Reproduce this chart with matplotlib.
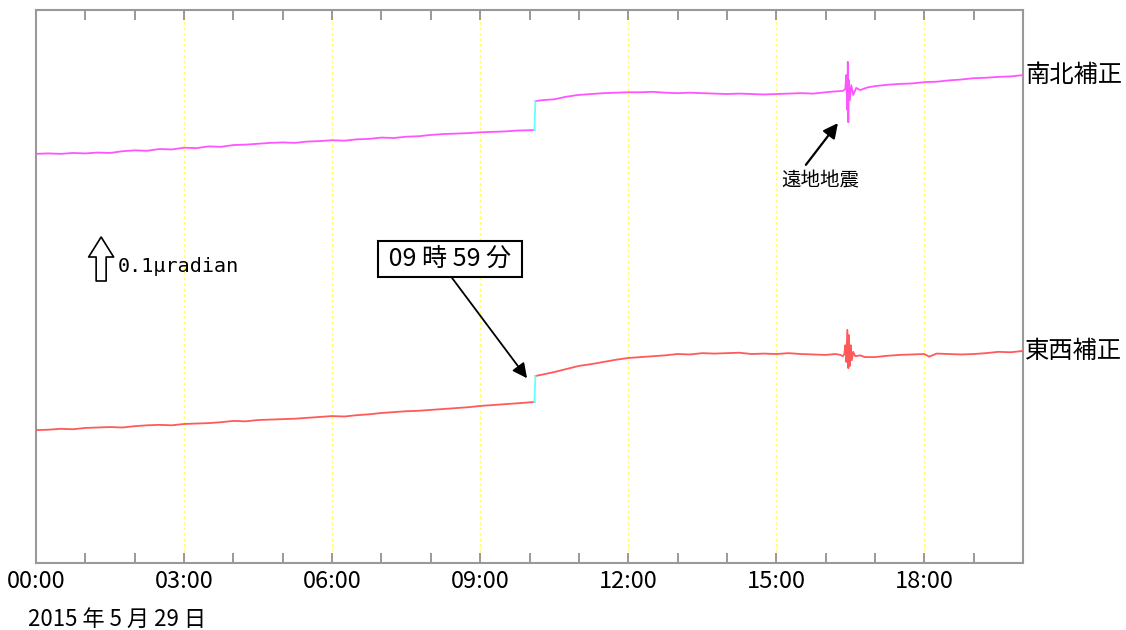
import numpy as np
import matplotlib
matplotlib.use('Agg')
import matplotlib.pyplot as plt

plt.rcParams['font.family'] = ['Noto Sans CJK JP', 'DejaVu Sans']

# tilt, corrected, in microradian (hours since 00:00)
ns_hours_pre = [0, 0.25, 0.5, 0.75, 1, 1.25, 1.5, 1.75, 2, 2.25, 2.5, 2.75, 3, 3.25,
                3.5, 3.75, 4, 4.25, 4.5, 4.75, 5, 5.25, 5.5, 5.75, 6, 6.25, 6.5,
                6.75, 7, 7.25, 7.5, 7.75, 8, 8.25, 8.5, 8.75, 9, 9.25, 9.5, 9.75,
                10.1]
ns_pre = [0.930, 0.931, 0.930, 0.932, 0.931, 0.933, 0.932, 0.936, 0.938, 0.937,
          0.941, 0.940, 0.944, 0.943, 0.947, 0.946, 0.950, 0.951, 0.953, 0.955,
          0.956, 0.955, 0.958, 0.959, 0.961, 0.960, 0.963, 0.964, 0.967, 0.966,
          0.969, 0.970, 0.973, 0.975, 0.976, 0.977, 0.979, 0.980, 0.981, 0.983,
          0.984]
ns_hours_post = [10.12, 10.25, 10.5, 10.75, 11, 11.25, 11.5, 11.75, 12, 12.25,
                 12.5, 12.75, 13, 13.25, 13.5, 13.75, 14, 14.25, 14.5, 14.75, 15,
                 15.25, 15.5, 15.75, 16, 16.2, 16.35, 16.40, 16.42, 16.44, 16.45,
                 16.46, 16.47, 16.49, 16.52, 16.56, 16.62, 16.7, 16.85, 17, 17.25,
                 17.5, 17.75, 18, 18.25, 18.5, 18.75, 19, 19.25, 19.5, 19.75, 20]
ns_post = [1.050, 1.052, 1.054, 1.060, 1.064, 1.066, 1.068, 1.069, 1.070, 1.070,
           1.071, 1.069, 1.068, 1.069, 1.068, 1.067, 1.066, 1.067, 1.066, 1.065,
           1.066, 1.067, 1.068, 1.067, 1.070, 1.072, 1.073, 1.078, 1.109, 1.030,
           1.139, 1.002, 1.098, 1.052, 1.086, 1.064, 1.080, 1.075, 1.081, 1.084,
           1.087, 1.089, 1.090, 1.093, 1.094, 1.097, 1.099, 1.102, 1.103, 1.105,
           1.106, 1.109]

ew_hours_pre = [0, 0.25, 0.5, 0.75, 1, 1.25, 1.5, 1.75, 2, 2.25, 2.5, 2.75, 3, 3.25,
                3.5, 3.75, 4, 4.25, 4.5, 4.75, 5, 5.25, 5.5, 5.75, 6, 6.25, 6.5,
                6.75, 7, 7.25, 7.5, 7.75, 8, 8.25, 8.5, 8.75, 9, 9.25, 9.5, 9.75,
                10.1]
ew_pre = [0.302, 0.303, 0.305, 0.304, 0.307, 0.308, 0.309, 0.308, 0.311, 0.313,
          0.314, 0.313, 0.316, 0.317, 0.318, 0.320, 0.323, 0.322, 0.325, 0.326,
          0.327, 0.328, 0.330, 0.332, 0.334, 0.333, 0.336, 0.338, 0.341, 0.343,
          0.345, 0.346, 0.348, 0.350, 0.352, 0.354, 0.357, 0.359, 0.361, 0.363,
          0.366]
ew_hours_post = [10.12, 10.25, 10.5, 10.75, 11, 11.25, 11.5, 11.75, 12, 12.25,
                 12.5, 12.75, 13, 13.25, 13.5, 13.75, 14, 14.25, 14.5, 14.75, 15,
                 15.25, 15.5, 15.75, 16, 16.2, 16.3, 16.35, 16.38, 16.40, 16.42,
                 16.44, 16.46, 16.47, 16.49, 16.51, 16.53, 16.56, 16.6, 16.7, 16.8,
                 17, 17.25, 17.5, 17.75, 18, 18.1, 18.25, 18.5, 18.75, 19, 19.25,
                 19.5, 19.75, 20]
ew_post = [0.425, 0.428, 0.434, 0.441, 0.448, 0.452, 0.457, 0.462, 0.466, 0.468,
           0.470, 0.472, 0.475, 0.474, 0.477, 0.476, 0.477, 0.478, 0.475, 0.476,
           0.475, 0.477, 0.475, 0.474, 0.473, 0.475, 0.473, 0.470, 0.475, 0.495,
           0.457, 0.530, 0.443, 0.518, 0.448, 0.495, 0.461, 0.480, 0.470, 0.472,
           0.468, 0.468, 0.471, 0.473, 0.474, 0.475, 0.469, 0.476, 0.475, 0.474,
           0.475, 0.477, 0.480, 0.479, 0.482]

tick_labels = ['00:00', '03:00', '06:00', '09:00', '12:00', '15:00', '18:00']
date_label = '2015 年 5 月 29 日'

fig = plt.figure(figsize=(11.26, 6.3), dpi=100)
ax = fig.add_axes([36/1126, 67/630, 987/1126, 553/630])

ns_col = '#ff55ff'
ew_col = '#ff5a5a'
jump_col = '#66ffff'

ax.plot(ns_hours_pre, ns_pre, color=ns_col, lw=1.3, zorder=3)
ax.plot(ns_hours_post, ns_post, color=ns_col, lw=1.3, zorder=3)
ax.plot([ns_hours_pre[-1], ns_hours_post[0]], [ns_pre[-1], ns_post[0]],
        color=jump_col, lw=1.3, zorder=3)
ax.plot(ew_hours_pre, ew_pre, color=ew_col, lw=1.3, zorder=3)
ax.plot(ew_hours_post, ew_post, color=ew_col, lw=1.3, zorder=3)
ax.plot([ew_hours_pre[-1], ew_hours_post[0]], [ew_pre[-1], ew_post[0]],
        color=jump_col, lw=1.3, zorder=3)

ax.set_xlim(0, 20)
ax.set_ylim(0, 1.257)

for h in range(3, 20, 3):
    ax.axvline(h, color='#ffff66', lw=1, ls=(0, (2, 2)), zorder=1)

ax.set_xticks([0, 3, 6, 9, 12, 15, 18])
ax.set_xticks([h for h in range(1, 20) if h % 3], minor=True)
ax.set_xticklabels(tick_labels, fontsize=17)
ax.tick_params(axis='x', which='both', direction='in', length=7, width=1.2,
               color='#888888', top=True, pad=5)
ax.set_yticks([])
for s in ax.spines.values():
    s.set_color('#999999')
    s.set_linewidth(1.5)

fig.text(28/1126, 1 - 619/630, date_label, fontsize=16, ha='left', va='center')

# component names on the right
ax.text(20.05, ns_post[-1], '南北補正', fontsize=17.5, ha='left', va='center', clip_on=False)
ax.text(20.05, ew_post[-1], '東西補正', fontsize=17.5, ha='left', va='center', clip_on=False)

# teleseism marker
ax.text(15.89, 0.868, '遠地地震', fontsize=14, ha='center', va='center')
ax.annotate('', xy=(16.25, 1.0), xytext=(15.60, 0.905),
            arrowprops=dict(arrowstyle='-|>', color='black', lw=1.6,
                            mutation_scale=22, shrinkA=0, shrinkB=0))

# time of the step
ax.text(8.39, 0.691, ' 09 時 59 分 ', fontsize=18, ha='center', va='center',
        bbox=dict(boxstyle='square,pad=0.2', fc='white', ec='black', lw=1.5))
ax.annotate('', xy=(9.95, 0.42), xytext=(8.43, 0.648),
            arrowprops=dict(arrowstyle='-|>', color='black', lw=1.3,
                            mutation_scale=22, shrinkA=0, shrinkB=0))

# scale bar 0.1 microradian
ax.annotate('', xy=(1.32, 0.741), xytext=(1.32, 0.641),
            arrowprops=dict(arrowstyle='simple,head_width=1.0,head_length=0.8,tail_width=0.4',
                            fc='white', ec='black', lw=1.2, shrinkA=0, shrinkB=0,
                            mutation_scale=18))
ax.text(1.66, 0.675, '0.1μradian', fontsize=14.5, ha='left', va='center',
        family=['DejaVu Sans Mono'])

fig.savefig('out.png', dpi=100)
